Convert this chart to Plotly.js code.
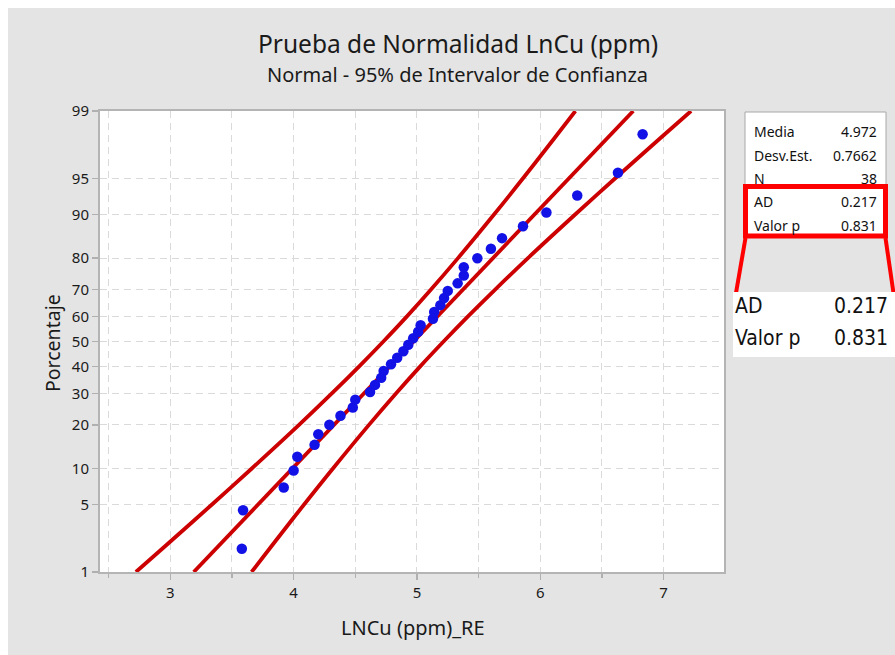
<!DOCTYPE html>
<html>
<head>
<meta charset="utf-8">
<script src="https://cdn.plot.ly/plotly-3.0.1.min.js"></script>
<style>
  html, body { margin: 0; padding: 0; background: #ffffff; }
  #chart { position: absolute; left: 8px; top: 8px; width: 887px; height: 647px; }
</style>
</head>
<body>
<div id="chart"></div>
<script>
// ---------------- data ----------------
// Plotted percentages (ranked positions) of the 38 observations
const pointPct = [1.82, 4.43, 7.03, 9.64, 12.24, 14.84, 17.45, 20.05, 22.66, 25.26,
                  27.86, 30.47, 33.07, 35.68, 38.28, 40.89, 43.49, 46.09, 48.70, 51.30,
                  53.91, 56.51, 59.11, 61.72, 64.32, 66.93, 69.53, 72.14, 74.74, 77.34,
                  79.95, 82.55, 85.16, 87.76, 90.36, 92.97, 95.57, 98.18];
// LNCu (ppm)_RE values
const pointX = [3.58, 3.59, 3.92, 4.00, 4.03, 4.17, 4.20, 4.29, 4.38, 4.48,
                4.50, 4.62, 4.66, 4.71, 4.73, 4.79, 4.84, 4.89, 4.93, 4.97,
                5.01, 5.03, 5.13, 5.14, 5.19, 5.22, 5.25, 5.33, 5.38, 5.38,
                5.49, 5.60, 5.69, 5.86, 6.05, 6.30, 6.63, 6.83];

// fitted line
const fitPct = [1, 99];
const fitX = [3.190, 6.754];

// 95% confidence bands
const bandPct = [1, 2, 5, 10, 20, 30, 40, 50, 60, 70, 80, 90, 95, 98, 99];
const bandLowX = [2.721, 2.969, 3.338, 3.661, 4.044, 4.310, 4.530, 4.728, 4.919, 5.114, 5.333, 5.625, 5.859, 6.116, 6.285];
const bandUpX  = [3.659, 3.828, 4.085, 4.319, 4.611, 4.830, 5.025, 5.216, 5.414, 5.634, 5.900, 6.283, 6.606, 6.975, 7.223];

// axis ticks
const yTickPct = [1, 5, 10, 20, 30, 40, 50, 60, 70, 80, 90, 95, 99];
const xTickVals = [3, 4, 5, 6, 7];

// statistics table
const statLabels = ['Media', 'Desv.Est.', 'N', 'AD', 'Valor p'];
const statValues = ['4.972', '0.7662', '38', '0.217', '0.831'];
const zoomLabels = ['AD', 'Valor p'];
const zoomValues = ['0.217', '0.831'];

// ---------------- probability scale ----------------
function probit(p) {
  const a = [-3.969683028665376e+01, 2.209460984245205e+02, -2.759285104469687e+02, 1.383577518672690e+02, -3.066479806614716e+01, 2.506628277459239e+00];
  const b = [-5.447609879822406e+01, 1.615858368580409e+02, -1.556989798598866e+02, 6.680131188771972e+01, -1.328068155288572e+01];
  const c = [-7.784894002430293e-03, -3.223964580411365e-01, -2.400758277161838e+00, -2.549732539343734e+00, 4.374664141464968e+00, 2.938163982698783e+00];
  const d = [7.784695709041462e-03, 3.224671290700398e-01, 2.445134137142996e+00, 3.754408661907416e+00];
  const pl = 0.02425, ph = 1 - pl;
  let q, r;
  if (p < pl) {
    q = Math.sqrt(-2 * Math.log(p));
    return (((((c[0]*q+c[1])*q+c[2])*q+c[3])*q+c[4])*q+c[5]) / ((((d[0]*q+d[1])*q+d[2])*q+d[3])*q+1);
  }
  if (p <= ph) {
    q = p - 0.5; r = q * q;
    return (((((a[0]*r+a[1])*r+a[2])*r+a[3])*r+a[4])*r+a[5])*q / (((((b[0]*r+b[1])*r+b[2])*r+b[3])*r+b[4])*r+1);
  }
  q = Math.sqrt(-2 * Math.log(1 - p));
  return -(((((c[0]*q+c[1])*q+c[2])*q+c[3])*q+c[4])*q+c[5]) / ((((d[0]*q+d[1])*q+d[2])*q+d[3])*q+1);
}
const toZ = arr => arr.map(v => probit(v / 100));

// ---------------- layout helpers (page pixels -> paper) ----------------
const PL = 100, PR = 724, PT = 111, PB = 572;
const px = x => (x - PL) / (PR - PL);
const py = y => (PB - y) / (PB - PT);

const FONT = '"Noto Sans", "Open Sans", sans-serif';
const NARROW = '"Liberation Sans Narrow", "DejaVu Sans Condensed", sans-serif';
const RED_LINE = '#cc0000';
const TXT = '#1a1a1a';

const traces = [
  { x: bandLowX, y: toZ(bandPct), mode: 'lines', line: { color: RED_LINE, width: 3.8, shape: 'spline' }, hoverinfo: 'skip' },
  { x: bandUpX,  y: toZ(bandPct), mode: 'lines', line: { color: RED_LINE, width: 3.8, shape: 'spline' }, hoverinfo: 'skip' },
  { x: fitX,     y: toZ(fitPct),  mode: 'lines', line: { color: RED_LINE, width: 3.8 }, hoverinfo: 'skip' },
  { x: pointX,   y: toZ(pointPct), mode: 'markers', marker: { color: '#1212e6', size: 10.5 }, hoverinfo: 'skip' }
];

const annotations = [
  { text: 'Prueba de Normalidad LnCu (ppm)', x: px(458), y: py(44), font: { size: 24.5, color: TXT, family: FONT } },
  { text: 'Normal - 95% de Intervalor de Confianza', x: px(457), y: py(74), font: { size: 20, color: TXT, family: FONT } },
  { text: 'Porcentaje', x: px(52), y: py(343), textangle: -90, font: { size: 19.5, color: TXT, family: FONT } },
  { text: 'LNCu (ppm)_RE', x: px(413), y: py(627), font: { size: 20, color: TXT, family: FONT } }
].map(a => Object.assign({ xref: 'paper', yref: 'paper', showarrow: false, xanchor: 'center', yanchor: 'middle' }, a));

const statRowY = [131, 155, 178, 201.5, 225];
statLabels.forEach((t, i) => {
  annotations.push({ text: t, xref: 'paper', yref: 'paper', x: px(752), y: py(statRowY[i]), xanchor: 'left', yanchor: 'middle', showarrow: false, font: { size: 14, color: '#111', family: FONT } });
  annotations.push({ text: statValues[i], xref: 'paper', yref: 'paper', x: px(879), y: py(statRowY[i]), xanchor: 'right', yanchor: 'middle', showarrow: false, font: { size: 14, color: '#111', family: FONT } });
});
const zoomRowY = [306, 338];
zoomLabels.forEach((t, i) => {
  annotations.push({ text: t, xref: 'paper', yref: 'paper', x: px(733), y: py(zoomRowY[i]), xanchor: 'left', yanchor: 'middle', showarrow: false, font: { size: 21, color: '#111', family: NARROW } });
  annotations.push({ text: zoomValues[i], xref: 'paper', yref: 'paper', x: px(890), y: py(zoomRowY[i]), xanchor: 'right', yanchor: 'middle', showarrow: false, font: { size: 21, color: '#111', family: NARROW } });
});

const rectP = (x0, y0, x1, y1, extra) => Object.assign({ type: 'rect', xref: 'paper', yref: 'paper', x0: px(x0), x1: px(x1), y0: py(y0), y1: py(y1) }, extra);
const lineP = (x0, y0, x1, y1, extra) => Object.assign({ type: 'line', xref: 'paper', yref: 'paper', x0: px(x0), x1: px(x1), y0: py(y0), y1: py(y1) }, extra);

const shapes = [
  rectP(745, 112, 886, 237, { fillcolor: '#ffffff', line: { color: '#a8a8a8', width: 1 }, layer: 'above' }),
  rectP(745.5, 186.5, 885.5, 236, { fillcolor: 'rgba(0,0,0,0)', line: { color: '#ff0000', width: 5 }, layer: 'above' }),
  lineP(745.5, 238, 736, 293, { line: { color: '#ff0000', width: 4 }, layer: 'above' }),
  lineP(885.5, 238, 893.5, 293, { line: { color: '#ff0000', width: 4 }, layer: 'above' }),
  rectP(733, 292, 896, 357, { fillcolor: '#ffffff', line: { width: 0 }, layer: 'above' })
];

const layout = {
  width: 887, height: 647,
  margin: { l: PL - 8, r: 887 - (PR - 8), t: PT - 8, b: 647 - (PB - 8), pad: 0 },
  paper_bgcolor: '#e4e4e4',
  plot_bgcolor: '#ffffff',
  showlegend: false,
  font: { family: FONT, color: '#222' },
  xaxis: {
    range: [2.43, 7.49],
    tickvals: xTickVals,
    ticks: 'outside', ticklen: 6, tickwidth: 1.5, tickcolor: '#b0b0b0',
    tickfont: { size: 15, color: TXT, family: FONT },
    showline: true, linecolor: '#b4b4b4', linewidth: 2, mirror: true,
    showgrid: true, gridcolor: '#dadada', gridwidth: 1, griddash: '7px,5px',
    minor: { dtick: 0.5, tick0: 0, ticks: 'outside', ticklen: 4, tickcolor: '#b0b0b0', showgrid: true, gridcolor: '#dadada', griddash: '7px,5px' },
    zeroline: false, fixedrange: true
  },
  yaxis: {
    range: [probit(0.01) - 1e-6, probit(0.99) + 1e-6],
    tickvals: toZ(yTickPct),
    ticktext: yTickPct.map(String),
    ticks: 'outside', ticklen: 6, tickwidth: 1.5, tickcolor: '#b0b0b0',
    tickfont: { size: 15, color: TXT, family: FONT },
    showline: true, linecolor: '#b4b4b4', linewidth: 2, mirror: true,
    showgrid: true, gridcolor: '#dadada', gridwidth: 1, griddash: '7px,5px',
    zeroline: false, fixedrange: true
  },
  annotations: annotations,
  shapes: shapes
};

Plotly.newPlot('chart', traces, layout, { staticPlot: true, displayModeBar: false });
</script>
</body>
</html>
